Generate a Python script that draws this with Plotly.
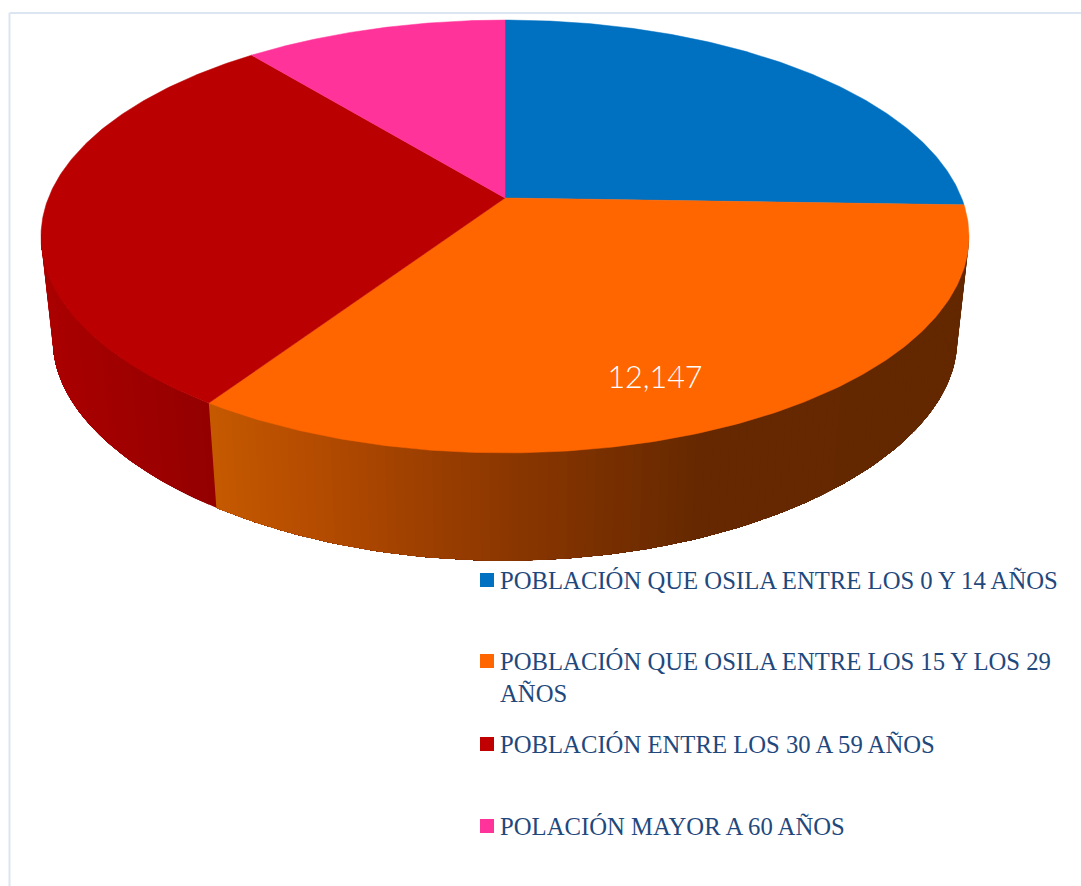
import numpy as np
import plotly.graph_objects as go

# ---- data ----
categories = [
    "POBLACIÓN QUE OSILA ENTRE LOS 0 Y 14 AÑOS",
    "POBLACIÓN QUE OSILA ENTRE LOS 15 Y LOS 29<br>AÑOS",
    "POBLACIÓN ENTRE LOS 30 A 59 AÑOS",
    "POLACIÓN MAYOR A 60 AÑOS",
]
values = [9170, 12147, 10710, 3910]
shown_labels = [None, "12,147", None, None]
top_colors = ["#0070C0", "#FF6600", "#BA0000", "#FF3399"]
swatch_colors = ["#0070C0", "#FF6600", "#C00000", "#FF3399"]

# ---- geometry of the tilted disc (pixels of the 1081x886 page) ----
CX, CY = 505.0, 198.0
K, A, B = 0.1778, 456.6, 209.6
BOT_A, BOT_CY, BOT_B, BOT_KY = 445.0, 303.5, 198.0, 0.23


def top_xy(theta):
    u, v = np.sin(theta), -np.cos(theta)
    d = 1 - K * v
    return CX + A * u / d, CY + B * v / d


def bot_xy(theta):
    u, v = np.sin(theta), -np.cos(theta)
    return CX + BOT_A * u / (1 - K * v), BOT_CY + BOT_B * v / (1 - BOT_KY * v)


def side_color(x, stops):
    xs, cs = zip(*stops)
    arr = np.array(cs, dtype=float)
    r = [int(round(np.interp(x, xs, arr[:, i]))) for i in range(3)]
    return f"rgb({r[0]},{r[1]},{r[2]})"


orange_stops = [(216, (198, 90, 0)), (330, (178, 74, 0)), (505, (140, 55, 0)), (700, (101, 40, 0)), (970, (100, 40, 0))]
red_stops = [(55, (170, 0, 0)), (216, (148, 0, 0))]

fracs = np.array(values, dtype=float) / sum(values)
edges = np.concatenate([[0], np.cumsum(fracs)]) * 2 * np.pi

fig = go.Figure()

# side wall: each band runs to the far end of its slice, so the next band paints over it (no seams)
vis_start, vis_end = np.radians(99.5), np.radians(260.5)
for idx, stops in ((1, orange_stops), (2, red_stops)):
    a0, a1 = max(edges[idx], vis_start), min(edges[idx + 1], vis_end)
    n = max(2, int(np.degrees(a1 - a0) / 1.0))
    th = np.linspace(a0, a1, n + 1)
    for k, t0 in enumerate(th[:-1]):
        arc = th[k:]
        xt, yt = top_xy(arc)
        xb, yb = bot_xy(arc[::-1])
        c = side_color(float(bot_xy((th[k] + th[k + 1]) / 2)[0]), stops)
        fig.add_trace(go.Scatter(
            x=np.concatenate([xt, xb, xt[:1]]), y=np.concatenate([yt, yb, yt[:1]]),
            mode="lines", fill="toself", fillcolor=c,
            line=dict(width=0), hoverinfo="skip", showlegend=False))

# top faces
for i, (name, val) in enumerate(zip(categories, values)):
    th = np.linspace(edges[i], edges[i + 1], 180)
    ax, ay = top_xy(th)
    fig.add_trace(go.Scatter(
        x=np.concatenate([[CX], ax, [CX]]), y=np.concatenate([[CY], ay, [CY]]),
        mode="lines", fill="toself", fillcolor=top_colors[i],
        line=dict(color=top_colors[i], width=0.5),
        name=name.replace("<br>", " "), text=f"{val:,}", hoverinfo="name+text", showlegend=False))

# value label
label_pos = {1: (655, 380)}
for i, (lx, ly) in label_pos.items():
    fig.add_trace(go.Scatter(
        x=[lx], y=[ly], mode="text", text=[shown_labels[i]],
        textfont=dict(family="Lato", size=30.5, color="white", weight=300),
        hoverinfo="skip", showlegend=False))

# legend swatches and text
row_y = [580, 661, 744, 826]
fig.add_trace(go.Scatter(
    x=[487] * 4, y=row_y, mode="markers",
    marker=dict(symbol="square", size=14, color=swatch_colors, line=dict(width=0)),
    hoverinfo="skip", showlegend=False))

annotations = []
for name, y in zip(categories, row_y):
    annotations.append(dict(
        x=498.5, y=y - 14.5, xref="x", yref="y", xanchor="left", yanchor="top",
        text=name, showarrow=False, align="left", borderpad=0,
        font=dict(family="Liberation Serif", size=24.7, color="#1F497D")))

fig.update_layout(
    width=1081, height=886, autosize=False,
    margin=dict(l=0, r=0, t=0, b=0),
    paper_bgcolor="white", plot_bgcolor="white",
    xaxis=dict(range=[0, 1081], visible=False, fixedrange=True),
    yaxis=dict(range=[886, 0], visible=False, fixedrange=True),
    annotations=annotations,
    shapes=[
        dict(type="line", xref="x", yref="y", x0=9.5, y0=886, x1=9.5, y1=13,
             line=dict(color="#DCE6F2", width=2)),
        dict(type="line", xref="x", yref="y", x0=9.5, y0=13, x1=1081, y1=13,
             line=dict(color="#DCE6F2", width=2)),
    ],
)
fig.write_html("out.html", config=dict(displayModeBar=False),
               post_script="document.body.style.margin='0';document.documentElement.style.overflow='hidden';")
